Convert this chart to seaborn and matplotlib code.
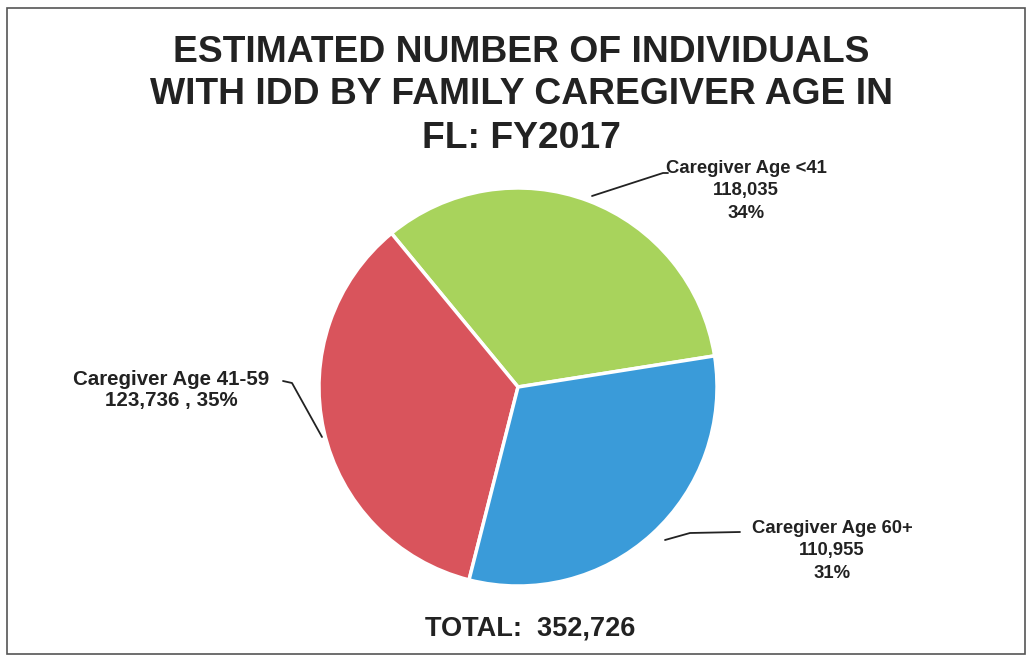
import matplotlib.pyplot as plt
import seaborn as sns
from matplotlib.patches import Rectangle
from matplotlib.lines import Line2D

sns.set_theme(style="white")
plt.rcParams["font.family"] = ["Liberation Sans", "DejaVu Sans"]

categories = ["Caregiver Age <41", "Caregiver Age 41-59", "Caregiver Age 60+"]
counts = [118035, 123736, 110955]
percents = ["34%", "35%", "31%"]
total = 352726
colors = ["#a8d35c", "#d9545c", "#3a9bd9"]

W, H = 1032, 658
fig = plt.figure(figsize=(W / 100, H / 100), dpi=100)


def fx(x):
    return x / W


def fy(y):
    return 1 - y / H


# outer frame
fig.patches.append(
    Rectangle((fx(7), fy(654)), fx(1025) - fx(7), fy(8) - fy(654),
              transform=fig.transFigure, fill=False, edgecolor="#555555", lw=1.2)
)

title_kw = dict(ha="center", va="center", fontsize=26.8, fontweight="bold", color="#222222")
fig.text(fx(521), fy(52), "ESTIMATED NUMBER OF INDIVIDUALS", **title_kw)
fig.text(fx(521), fy(95), "WITH IDD BY FAMILY CAREGIVER AGE IN", **title_kw)
fig.text(fx(521), fy(138), "FL: FY2017", **title_kw)

cx, cy, r = 518, 387, 203
ax = fig.add_axes([fx(cx - r), fy(cy + r), 2 * r / W, 2 * r / H])
ax.pie(counts, colors=colors, startangle=9, counterclock=True, radius=1,
       wedgeprops=dict(edgecolor="white", linewidth=2.5))
ax.set_xlim(-1.02, 1.02)
ax.set_ylim(-1.02, 1.02)
ax.set_aspect("auto")
ax.axis("off")

lab_kw = dict(ha="center", va="center", fontweight="bold",
              color="#222222", linespacing=1.4)
fig.text(fx(746), fy(191), f"{categories[0]}\n{counts[0]:,}\n{percents[0]}",
         fontsize=13.3, **lab_kw)
fig.text(fx(171), fy(390), f"{categories[1]}\n{counts[1]:,} , {percents[1]}",
         fontsize=14.8, **{**lab_kw, "linespacing": 1.15})
fig.text(fx(832), fy(551), f"{categories[2]}\n{counts[2]:,}\n{percents[2]}",
         fontsize=13.3, **lab_kw)
fig.text(fx(530), fy(628), f"TOTAL:  {total:,}", ha="center", va="center",
         fontsize=19.5, fontweight="bold", color="#222222")

# leader lines
for xs, ys in [
    ([592, 663, 668], [196, 173, 173]),
    ([322, 292, 283], [437, 383, 381]),
    ([665, 690, 740], [540, 533, 532]),
]:
    fig.add_artist(Line2D([fx(v) for v in xs], [fy(v) for v in ys],
                          transform=fig.transFigure, color="#222222", lw=1.3))

fig.savefig("out.png", dpi=100, facecolor="white")
